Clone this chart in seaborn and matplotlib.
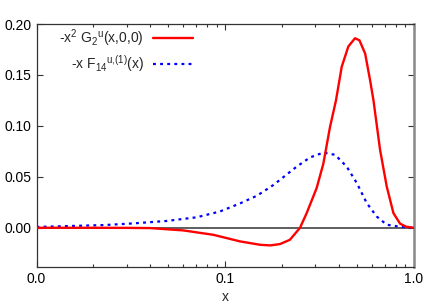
import matplotlib
matplotlib.use("Agg")
import matplotlib.pyplot as plt
import matplotlib.ticker as mticker
import pandas as pd
import seaborn as sns

# -x^2 G2^u(x,0,0)
red_x = [0.01, 0.02, 0.03, 0.04, 0.06, 0.0865, 0.12, 0.153, 0.173, 0.195, 0.22,
         0.249, 0.27, 0.305, 0.331, 0.359, 0.386, 0.414, 0.449, 0.487, 0.514,
         0.551, 0.585, 0.61, 0.661, 0.717, 0.778, 0.844, 0.91, 1.0]
red_y = [0.0, 0.0, -0.0001, -0.0003, -0.0026, -0.0069, -0.0134, -0.0167, -0.0173,
         -0.016, -0.0118, 0.0, 0.0144, 0.039, 0.063, 0.099, 0.125, 0.158, 0.178,
         0.186, 0.184, 0.171, 0.145, 0.125, 0.0765, 0.0405, 0.0144, 0.004, 0.001, 0.0]

# -x F14^{u,(1)}(x)
blue_x = [0.01, 0.0231, 0.0326, 0.049, 0.0706, 0.0938, 0.12, 0.147, 0.18, 0.239,
          0.281, 0.331, 0.382, 0.44, 0.498, 0.562, 0.635, 0.717, 0.844, 1.0]
blue_y = [0.0008, 0.0027, 0.0043, 0.0067, 0.0103, 0.016, 0.024, 0.0314, 0.042, 0.060,
          0.069, 0.0738, 0.0716, 0.060, 0.0438, 0.0242, 0.011, 0.003, 0.001, 0.0]

red_label = r"-x$^{2}$ G$_{2}$$^{\mathrm{u}}$(x,0,0)"
blue_label = r"-x F$_{14}$$^{\mathrm{u{,}(1)}}$(x)"

x_ticks = [0.01, 0.1, 1.0]
y_ticks = [0.0, 0.05, 0.10, 0.15, 0.20]

sns.set_style("ticks")
plt.rcParams["font.family"] = ["Liberation Sans", "DejaVu Sans"]
plt.rcParams["mathtext.fontset"] = "custom"
plt.rcParams["mathtext.rm"] = "Liberation Sans"
plt.rcParams["mathtext.it"] = "Liberation Sans"

df_red = pd.DataFrame({"x": red_x, "y": red_y})
df_blue = pd.DataFrame({"x": blue_x, "y": blue_y})

fig = plt.figure(figsize=(4.36, 3.05), dpi=100)
ax = fig.add_axes([36.5 / 436, 38 / 305, 377.5 / 436, 243 / 305])

ax.axhline(0, color="#333333", lw=1.1, zorder=1)
sns.lineplot(data=df_red, x="x", y="y", ax=ax, color="#ff0000", lw=1.7,
             estimator=None, label=red_label, zorder=3)
sns.lineplot(data=df_blue, x="x", y="y", ax=ax, color="#0000ff", lw=1.6,
             estimator=None, label=blue_label, zorder=2, dashes=False)
ax.lines[-1].set_dashes((1.3, 1.9))

ax.set_xscale("log")
ax.set_xlim(0.01, 1.0)
ax.set_ylim(-0.0385, 0.2)
ax.set_xticks(x_ticks)
ax.xaxis.set_major_formatter(mticker.FuncFormatter(lambda v, p: f"{v:.1f}"))
ax.xaxis.set_minor_formatter(mticker.NullFormatter())
ax.set_yticks(y_ticks)
ax.yaxis.set_major_formatter(mticker.FormatStrFormatter("%.2f"))

ax.tick_params(which="both", direction="in", top=True, right=True,
               labelsize=10, colors="#333333", labelcolor="black")
ax.tick_params(which="major", length=4, width=0.8)
ax.tick_params(which="minor", length=2.5, width=0.8)
ax.tick_params(axis="y", which="minor", left=False, right=False)

ax.set_xlabel("x", fontsize=10, labelpad=3)
ax.set_ylabel("")

for side in ["left", "bottom", "top"]:
    ax.spines[side].set_color("#333333")
    ax.spines[side].set_linewidth(0.9)
ax.spines["right"].set_color("#888888")
ax.spines["right"].set_linewidth(1.8)

leg = ax.legend(loc="upper right", bbox_to_anchor=(193 / 436, 1 - 27 / 305),
                bbox_transform=fig.transFigure, frameon=False, markerfirst=False,
                fontsize=10, handlelength=2.9, handletextpad=0.65,
                labelspacing=0.35, borderpad=0, borderaxespad=0)

fig.savefig("out.png", dpi=100)
